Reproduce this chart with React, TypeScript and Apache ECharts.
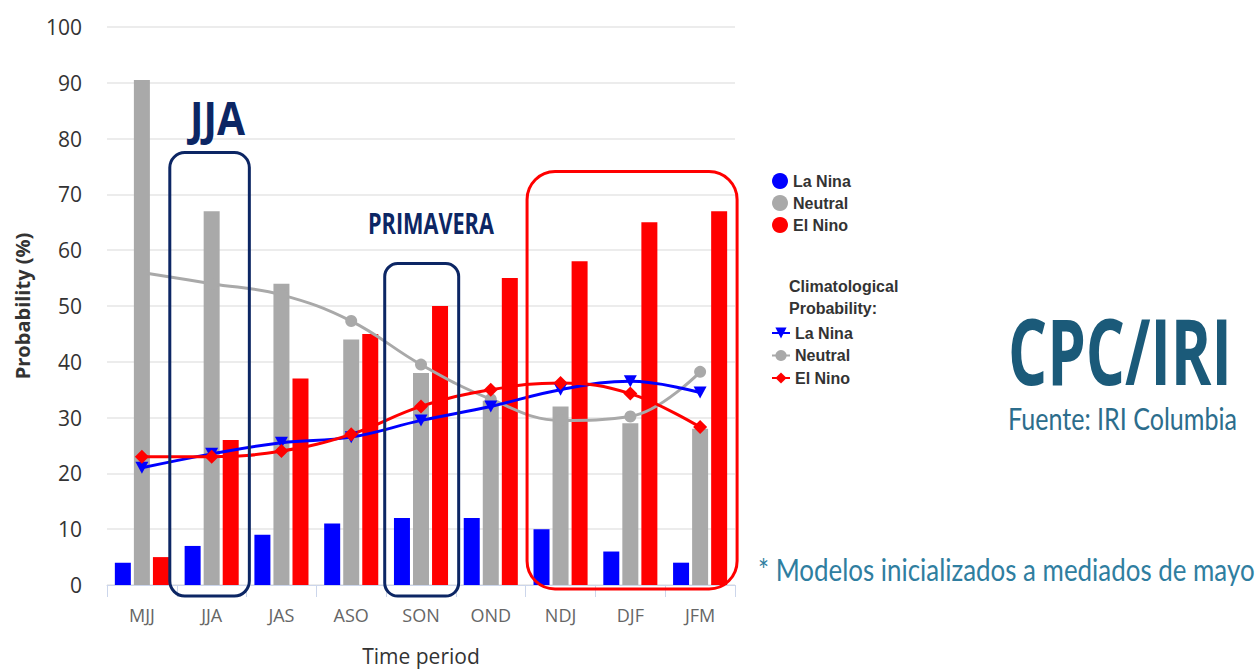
import React, { useEffect, useRef } from 'react';
import * as echarts from 'echarts';

const categories = ['MJJ', 'JJA', 'JAS', 'ASO', 'SON', 'OND', 'NDJ', 'DJF', 'JFM'];
const laNina = [4, 7, 9, 11, 12, 12, 10, 6, 4];
const neutral = [90.5, 67, 54, 44, 38, 33, 32, 29, 28];
const elNino = [5, 26, 37, 45, 50, 55, 58, 65, 67];
const climLaNina = [21, 23.5, 25.5, 26.5, 29.5, 32, 35, 36.5, 34.5];
const climNeutral = [56, 54, 52, 47.3, 39.5, 33.3, 29.5, 30.2, 38.2];
const climElNino = [23, 23, 24, 27, 32, 35, 36.2, 34.3, 28.3];
const yMin = 0;
const yMax = 100;
const yStep = 10;

const BLUE = '#0000ff';
const GRAY = '#a9a9a9';
const RED = '#ff0000';
const NAVY = '#0c2664';
const AXISFONT = "'Open Sans', sans-serif";
const LEGFONT = "'Liberation Sans', Arial, sans-serif";
const TRI_DOWN = 'path://M0,0L10,0L5,9Z';

function fitScale(text: string, font: string, w: number) {
  const c = document.createElement('canvas').getContext('2d');
  if (!c) return 1;
  c.font = font;
  const m = c.measureText(text).width;
  return m > 0 ? w / m : 1;
}

function fittedText(text: string, x: number, yMid: number, w: number, size: number, weight: string, family: string, fill: string) {
  const font = `${weight} ${size}px ${family}`;
  return {
    type: 'text',
    x,
    y: yMid,
    scaleX: fitScale(text, font, w),
    z: 100,
    style: {
      text,
      fontSize: size,
      fontWeight: weight,
      fontFamily: family,
      fill,
      textAlign: 'left',
      verticalAlign: 'middle',
    },
  };
}

export default function App() {
  const ref = useRef<HTMLDivElement>(null);
  useEffect(() => {
    const chart = echarts.init(ref.current!, null, { renderer: 'svg' });
    const legendText = { fontWeight: 'bold', fontSize: 16, color: '#333', fontFamily: LEGFONT };
    const lineCommon = { type: 'line', smooth: 0.4, symbolSize: 12, z: 5, lineStyle: { width: 3 } };
    chart.setOption({
      animation: false,
      backgroundColor: '#fff',
      grid: { left: 107, right: 525, top: 27, bottom: 85, containLabel: false },
      legend: [
        {
          orient: 'vertical', left: 767, top: 168, itemWidth: 16, itemHeight: 16, itemGap: 6,
          icon: 'circle', data: ['La Nina', 'Neutral', 'El Nino'], textStyle: legendText,
        },
        {
          orient: 'vertical', left: 766, top: 320, itemWidth: 18, itemHeight: 14, itemGap: 6.5,
          data: ['Clim La Nina', 'Clim Neutral', 'Clim El Nino'], textStyle: legendText,
          formatter: (n: string) => n.replace('Clim ', ''),
        },
      ],
      xAxis: {
        type: 'category',
        data: categories,
        boundaryGap: true,
        name: 'Time period',
        nameLocation: 'middle',
        nameGap: 60,
        nameTextStyle: { fontSize: 21, color: '#333', fontFamily: AXISFONT },
        axisLine: { lineStyle: { color: '#ccd6eb', width: 1 } },
        axisTick: { show: true, length: 12, lineStyle: { color: '#ccd6eb' } },
        axisLabel: { fontSize: 18, color: '#666', margin: 21, fontFamily: AXISFONT },
      },
      yAxis: {
        type: 'value',
        min: yMin,
        max: yMax,
        interval: yStep,
        name: 'Probability (%)',
        nameLocation: 'middle',
        nameGap: 75,
        nameTextStyle: { fontSize: 20, fontWeight: 'bold', color: '#333', fontFamily: AXISFONT },
        axisLine: { show: false },
        axisTick: { show: false },
        axisLabel: { fontSize: 21, color: '#333', margin: 25, fontFamily: AXISFONT },
        splitLine: { lineStyle: { color: '#e6e6e6', width: 1.5 } },
      },
      series: [
        { name: 'La Nina', type: 'bar', data: laNina, barWidth: 16, barGap: '19%', itemStyle: { color: BLUE } },
        { name: 'Neutral', type: 'bar', data: neutral, barWidth: 16, barGap: '19%', itemStyle: { color: GRAY } },
        { name: 'El Nino', type: 'bar', data: elNino, barWidth: 16, barGap: '19%', itemStyle: { color: RED } },
        { ...lineCommon, name: 'Clim Neutral', data: climNeutral, symbol: 'circle', itemStyle: { color: GRAY }, lineStyle: { width: 3, color: GRAY } },
        { ...lineCommon, name: 'Clim La Nina', data: climLaNina, symbol: TRI_DOWN, symbolSize: [13, 12], itemStyle: { color: BLUE }, lineStyle: { width: 3, color: BLUE } },
        { ...lineCommon, name: 'Clim El Nino', data: climElNino, symbol: 'diamond', symbolSize: [14, 14], itemStyle: { color: RED }, lineStyle: { width: 3, color: RED } },
      ],
    });

    const px = (cat: string, v: number) => chart.convertToPixel({ gridIndex: 0 }, [cat, v]) as number[];
    const bw = px('JAS', 0)[0] - px('JJA', 0)[0];
    const y0 = px('MJJ', 0)[1];
    const box = (c1: string, c2: string, l: number, r: number, top: number, bottomPad: number, rad: number, color: string) => {
      const x1 = px(c1, 0)[0] - l * bw;
      const x2 = px(c2, 0)[0] + r * bw;
      const yt = px(c1, top)[1];
      return {
        type: 'rect', z: 90,
        shape: { x: x1, y: yt, width: x2 - x1, height: y0 + bottomPad - yt, r: rad },
        style: { fill: 'none', stroke: color, lineWidth: 3 },
      };
    };
    const sans = "'Open Sans', sans-serif";
    chart.setOption({
      graphic: [
        box('JJA', 'JJA', 0.6, 0.54, 77.5, 11, 15, NAVY),
        box('SON', 'SON', 0.52, 0.54, 57.6, 11, 13, NAVY),
        box('NDJ', 'JFM', 0.48, 0.53, 74.1, 4, 28, RED),
        fittedText('JJA', 190, 118, 55, 46, 'bold', sans, NAVY),
        fittedText('PRIMAVERA', 368, 223, 126, 28, 'bold', sans, NAVY),
        {
          type: 'text', x: 789, y: 297, z: 100,
          style: { text: 'Climatological\nProbability:', fontSize: 16, fontWeight: 'bold', fontFamily: LEGFONT, fill: '#333', lineHeight: 22, verticalAlign: 'middle', textAlign: 'left' },
        },
        fittedText('CPC/IRI', 1008, 349, 224, 92, 'bold', sans, '#1b5a79'),
        fittedText('Fuente: IRI Columbia', 1008, 419, 229, 30, 'normal', 'Lato, sans-serif', '#2c6d8c'),
        fittedText('* Modelos inicializados a mediados de mayo', 758, 569, 497, 30, 'normal', 'Lato, sans-serif', '#2f7ea0'),
      ],
    });
    return () => chart.dispose();
  }, []);
  return <div ref={ref} style={{ position: 'absolute', left: 0, top: 0, width: 1260, height: 671, background: '#fff' }} />;
}
